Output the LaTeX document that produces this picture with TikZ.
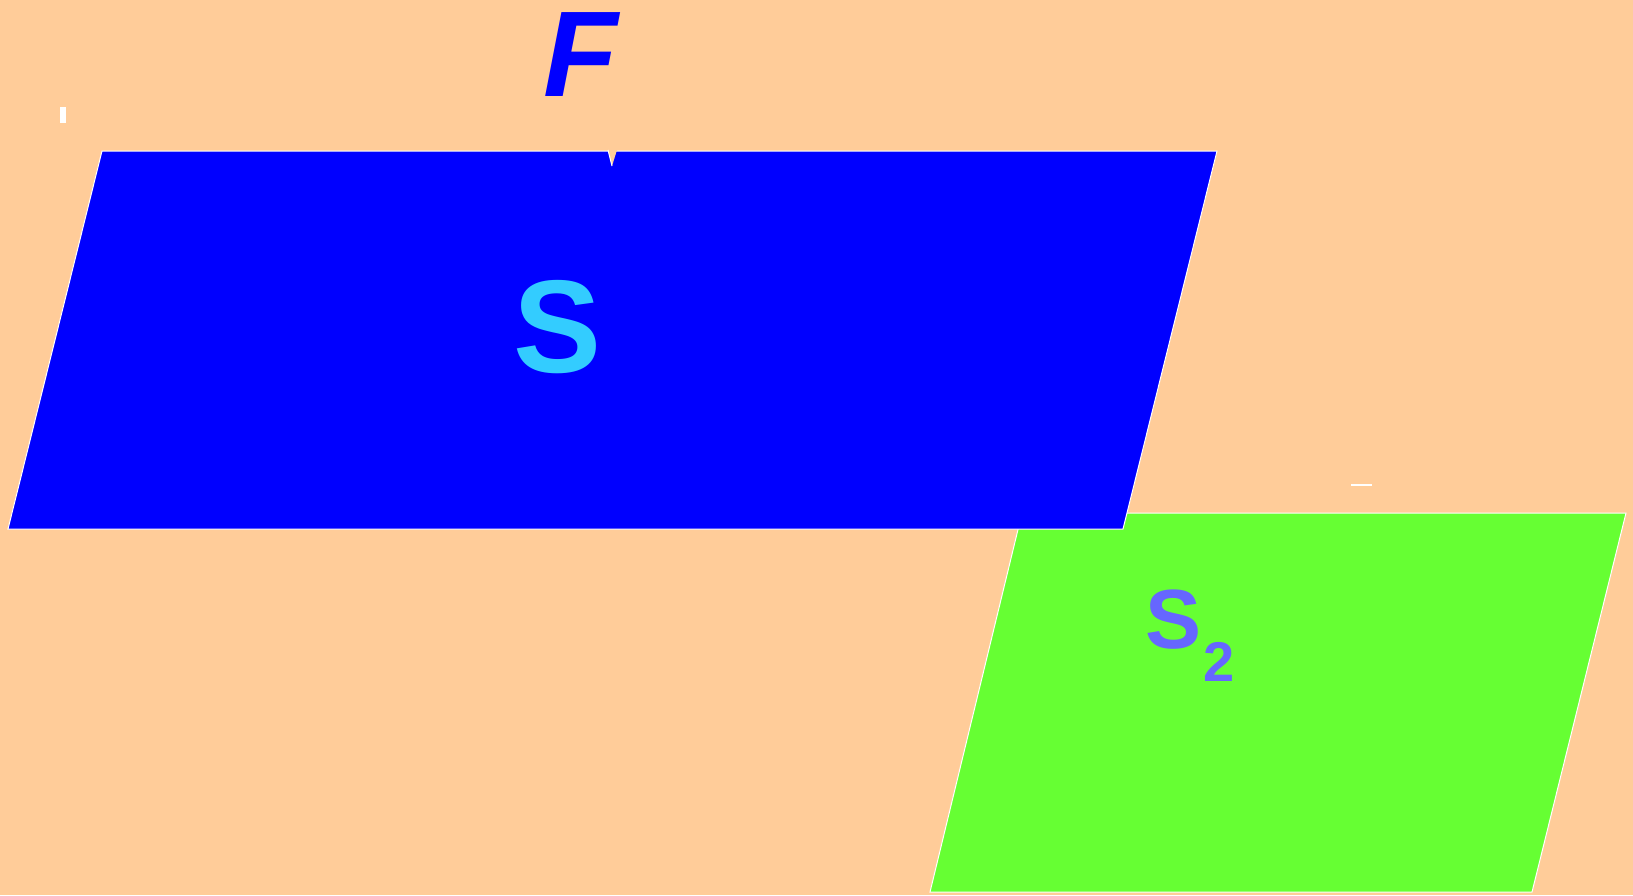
\documentclass[tikz,border=0pt]{standalone}
\usepackage{fontspec}
\setmainfont{Liberation Sans}
\definecolor{peach}{RGB}{255,204,153}
\definecolor{sheetgreen}{RGB}{102,255,51}
\definecolor{labelcyan}{RGB}{51,204,255}
\definecolor{labelviolet}{RGB}{102,102,255}

\begin{document}
\begin{tikzpicture}[x=0.5pt, y=-0.5pt,
  sheet/.style={draw=white, line width=0.5pt, line join=miter},
  letter/.style={inner sep=0pt, anchor=base, font=\bfseries}]

% Background
\fill[peach] (0,0) rectangle (1633,895);
\useasboundingbox (0,0) rectangle (1633,895);

% Lower sheet (green)
\filldraw[sheet, fill=sheetgreen] (1022,513) -- (1626,513) -- (1532,892) -- (930,892) -- cycle;
\node[letter, anchor=base west, text=labelviolet, font=\bfseries\fontsize{42}{42}\selectfont] (stwo) at (1145,648) {S\kern1pt\raisebox{-16.5pt}{\fontsize{28}{28}\selectfont 2}};

% Upper sheet (blue)
\filldraw[sheet, fill=blue] (102,151) -- (1217,151) -- (1123,529) -- (8,529) -- cycle;
\node[letter, text=labelcyan, font=\bfseries\fontsize{66}{66}\selectfont] (s) at (558,372) {S};

% Force F and its tip
\node[letter, text=blue, font=\bfseries\itshape\fontsize{61}{61}\selectfont] (f) at (581,96) {F};
\fill[peach] (608,150) -- (617,150) -- (612,166) -- cycle;
\draw[white, line width=0.5pt] (608,150) -- (612,166);

% Small marks
\fill[white] (60,107) rectangle (66,123);
\draw[white, line width=1pt] (1351,485) -- (1372,485);

\end{tikzpicture}
\end{document}
